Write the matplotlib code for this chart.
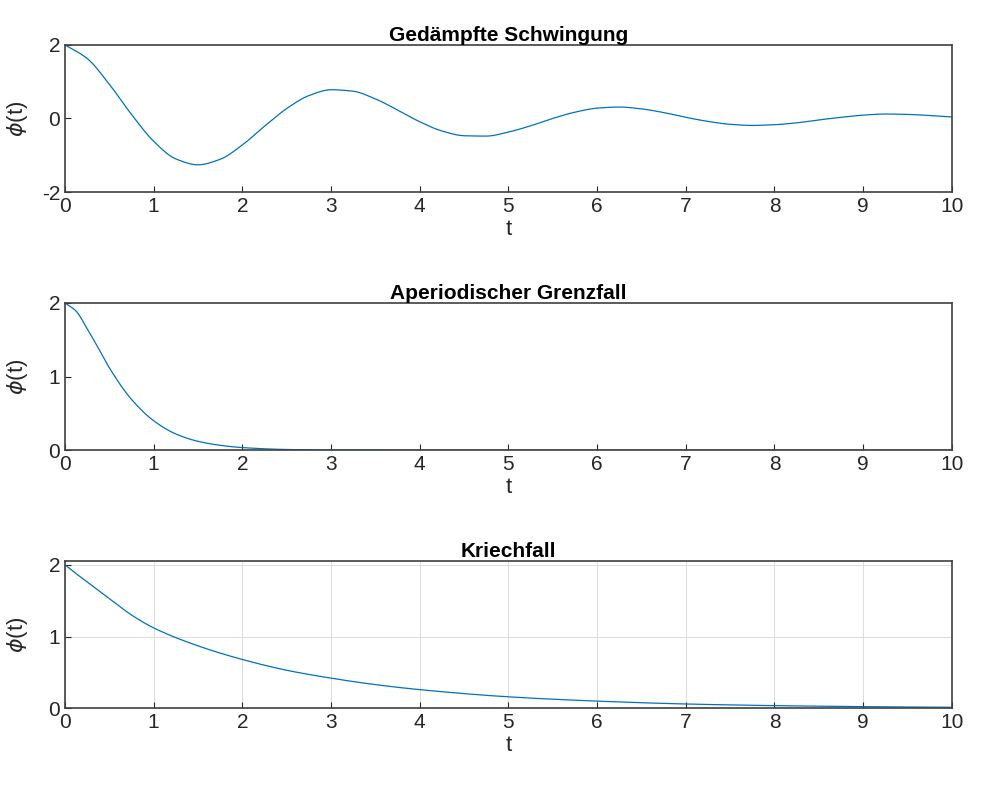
import numpy as np
import matplotlib.pyplot as plt

plt.rcParams['font.family'] = ['Liberation Sans', 'DejaVu Sans']
plt.rcParams['axes.unicode_minus'] = False

# Gedämpfte Schwingung
t_osc = [0, 0.25, 0.5, 0.75, 1.0, 1.25, 1.5, 1.75, 2.0, 2.25, 2.5, 2.75, 3.0, 3.25, 3.5, 3.75,
         4.0, 4.25, 4.5, 4.75, 5.0, 5.25, 5.5, 5.75, 6.0, 6.25, 6.5, 6.75, 7.0, 7.25, 7.5,
         7.75, 8.0, 8.25, 8.5, 8.75, 9.0, 9.25, 9.5, 9.75, 10.0]
phi_osc = [2.00, 1.63, 0.93, 0.11, -0.62, -1.10, -1.26, -1.11, -0.72, -0.21, 0.27, 0.62, 0.78,
           0.74, 0.53, 0.23, -0.09, -0.34, -0.47, -0.48, -0.37, -0.20, 0.00, 0.17, 0.28, 0.31,
           0.26, 0.16, 0.03, -0.08, -0.16, -0.19, -0.17, -0.12, -0.04, 0.03, 0.09, 0.12, 0.11,
           0.08, 0.04]

# Aperiodischer Grenzfall
t_crit = [0, 0.125, 0.25, 0.375, 0.5, 0.75, 1.0, 1.25, 1.5, 1.75, 2.0, 2.5, 3.0, 4.0, 10.0]
phi_crit = [2.00, 1.89, 1.65, 1.39, 1.12, 0.69, 0.40, 0.22, 0.12, 0.066, 0.035, 0.009, 0.002, 0.0, 0.0]

# Kriechfall
t_creep = [0, 0.1, 0.25, 0.5, 0.75, 1.0, 1.5, 2.0, 2.5, 3.0, 3.5, 4.0, 5.0, 6.0, 7.0, 8.0, 9.0, 10.0]
phi_creep = [2.00, 1.90, 1.76, 1.53, 1.30, 1.12, 0.87, 0.68, 0.53, 0.42, 0.33, 0.26, 0.16,
             0.10, 0.06, 0.037, 0.023, 0.014]


def smooth(x, y, n=20):
    # monotone cubic (Fritsch-Carlson) through the read points, just for drawing
    x = np.asarray(x, float)
    y = np.asarray(y, float)
    h = np.diff(x)
    d = np.diff(y) / h
    m = np.zeros_like(y)
    m[0], m[-1] = d[0], d[-1]
    for i in range(1, len(y) - 1):
        if d[i - 1] * d[i] > 0:
            w1 = 2 * h[i] + h[i - 1]
            w2 = h[i] + 2 * h[i - 1]
            m[i] = (w1 + w2) / (w1 / d[i - 1] + w2 / d[i])
    xs, ys = [], []
    for i in range(len(h)):
        s = np.linspace(0, 1, n, endpoint=False)
        h00 = 2 * s**3 - 3 * s**2 + 1
        h10 = s**3 - 2 * s**2 + s
        h01 = -2 * s**3 + 3 * s**2
        h11 = s**3 - s**2
        xs.append(x[i] + s * h[i])
        ys.append(h00 * y[i] + h10 * h[i] * m[i] + h01 * y[i + 1] + h11 * h[i] * m[i + 1])
    xs.append([x[-1]])
    ys.append([y[-1]])
    return np.concatenate(xs), np.concatenate(ys)


panels = [
    ("Gedämpfte Schwingung", t_osc, phi_osc, (-2, 2), [-2, 0, 2], False, 0.756),
    ("Aperiodischer Grenzfall", t_crit, phi_crit, (0, 2), [0, 1, 2], False, 0.428),
    ("Kriechfall", t_creep, phi_creep, (0, 2.05), [0, 1, 2], True, 0.100),
]

fig = plt.figure(figsize=(9.92, 7.87), dpi=100)
edge = "#404040"
for title, t, phi, ylim, yticks, grid, bottom in panels:
    ax = fig.add_axes([0.0655, bottom, 0.894, 0.187])
    xs, ys = smooth(t, phi)
    ax.plot(xs, ys, color="#0072BD", lw=0.9)
    ax.set_xlim(0, 10)
    ax.set_ylim(*ylim)
    ax.set_xticks(range(11))
    ax.set_yticks(yticks)
    ax.tick_params(direction="in", labelsize=15, colors="#262626", length=4)
    for s in ax.spines.values():
        s.set_color(edge)
        s.set_linewidth(1.2)
    if grid:
        ax.grid(True, color="#dcdcdc", lw=0.7)
    ax.set_title(title, fontsize=15, fontweight="bold", pad=3)
    ax.set_xlabel("t", fontsize=16, color="#262626", labelpad=2)
    ax.set_ylabel(r"$\phi$(t)", fontsize=16, color="#262626", labelpad=2)
    ax.yaxis.set_label_coords(-0.04, 0.5)

fig.savefig("out.png", dpi=100)
